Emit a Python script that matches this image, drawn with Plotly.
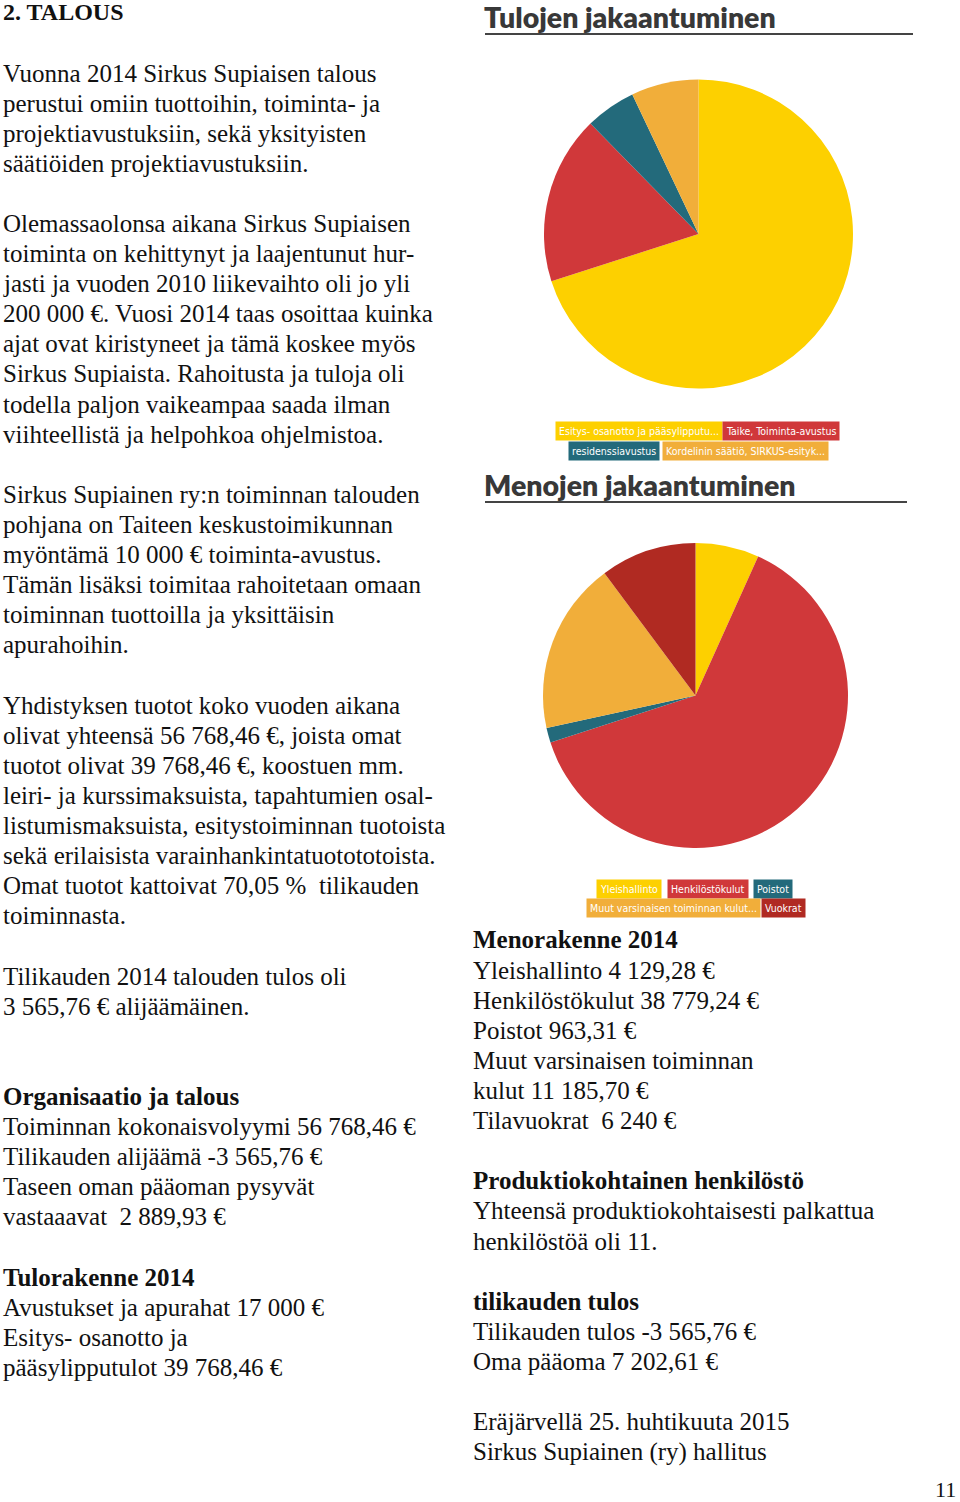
import plotly.graph_objects as go

W, H = 960, 1502

# ---------------- data ----------------
income_labels = ["Esitys- osanotto ja pääsylipputu...", "Taike, Toiminta-avustus",
                 "residenssiavustus", "Kordelinin säätiö, SIRKUS-esityk..."]
income_values = [39768.46, 10000, 3000, 4000]
income_colors = ["#FDD000", "#D0383A", "#236A7B", "#F1AE3A"]

expense_labels = ["Yleishallinto", "Henkilöstökulut", "Poistot",
                  "Muut varsinaisen toiminnan kulut...", "Vuokrat"]
expense_values = [4129.28, 38779.24, 963.31, 11185.70, 6240]
expense_colors = ["#FDD000", "#D0383A", "#236A7B", "#F1AE3A", "#B02A22"]

left_lines = [
    ("Vuonna 2014 Sirkus Supiaisen talous", False),
    ("perustui omiin tuottoihin, toiminta- ja", False),
    ("projektiavustuksiin, sekä yksityisten", False),
    ("säätiöiden projektiavustuksiin.", False),
    ("", False),
    ("Olemassaolonsa aikana Sirkus Supiaisen", False),
    ("toiminta on kehittynyt ja laajentunut hur-", False),
    ("jasti ja vuoden 2010 liikevaihto oli jo yli", False),
    ("200 000 €. Vuosi 2014 taas osoittaa kuinka", False),
    ("ajat ovat kiristyneet ja tämä koskee myös", False),
    ("Sirkus Supiaista. Rahoitusta ja tuloja oli", False),
    ("todella paljon vaikeampaa saada ilman", False),
    ("viihteellistä ja helpohkoa ohjelmistoa.", False),
    ("", False),
    ("Sirkus Supiainen ry:n toiminnan talouden", False),
    ("pohjana on Taiteen keskustoimikunnan", False),
    ("myöntämä 10 000 € toiminta-avustus.", False),
    ("Tämän lisäksi toimitaa rahoitetaan omaan", False),
    ("toiminnan tuottoilla ja yksittäisin", False),
    ("apurahoihin.", False),
    ("", False),
    ("Yhdistyksen tuotot koko vuoden aikana", False),
    ("olivat yhteensä 56 768,46 €, joista omat", False),
    ("tuotot olivat 39 768,46 €, koostuen mm.", False),
    ("leiri- ja kurssimaksuista, tapahtumien osal-", False),
    ("listumismaksuista, esitystoiminnan tuotoista", False),
    ("sekä erilaisista varainhankintatuotototoista.", False),
    ("Omat tuotot kattoivat 70,05 %  tilikauden", False),
    ("toiminnasta.", False),
    ("", False),
    ("Tilikauden 2014 talouden tulos oli", False),
    ("3 565,76 € alijäämäinen.", False),
    ("", False),
    ("", False),
    ("Organisaatio ja talous", True),
    ("Toiminnan kokonaisvolyymi 56 768,46 €", False),
    ("Tilikauden alijäämä -3 565,76 €", False),
    ("Taseen oman pääoman pysyvät", False),
    ("vastaaavat  2 889,93 €", False),
    ("", False),
    ("Tulorakenne 2014", True),
    ("Avustukset ja apurahat 17 000 €", False),
    ("Esitys- osanotto ja", False),
    ("pääsylipputulot 39 768,46 €", False),
]

right_lines = [
    ("Menorakenne 2014", True),
    ("Yleishallinto 4 129,28 €", False),
    ("Henkilöstökulut 38 779,24 €", False),
    ("Poistot 963,31 €", False),
    ("Muut varsinaisen toiminnan", False),
    ("kulut 11 185,70 €", False),
    ("Tilavuokrat  6 240 €", False),
    ("", False),
    ("Produktiokohtainen henkilöstö", True),
    ("Yhteensä produktiokohtaisesti palkattua", False),
    ("henkilöstöä oli 11.", False),
    ("", False),
    ("tilikauden tulos", True),
    ("Tilikauden tulos -3 565,76 €", False),
    ("Oma pääoma 7 202,61 €", False),
    ("", False),
    ("Eräjärvellä 25. huhtikuuta 2015", False),
    ("Sirkus Supiainen (ry) hallitus", False),
]

# ---------------- helpers (page pixels -> paper) ----------------
def px(x):
    return x / W

def py(y):
    return 1 - y / H

SERIF = "Liberation Serif, Times New Roman, serif"
TITLE_FONT = "Lato, Open Sans, sans-serif"
LEG_FONT = "Liberation Sans Narrow, DejaVu Sans Condensed, Roboto, sans-serif"
TXT = "#111111"

fig = go.Figure()

fig.add_trace(go.Pie(
    labels=income_labels, values=income_values, sort=False,
    direction="clockwise", rotation=0,
    marker=dict(colors=income_colors, line=dict(width=0)),
    textinfo="none", showlegend=False,
    domain=dict(x=[px(544), px(853)], y=[py(389), py(79)]),
))
fig.add_trace(go.Pie(
    labels=expense_labels, values=expense_values, sort=False,
    direction="clockwise", rotation=0,
    marker=dict(colors=expense_colors, line=dict(width=0)),
    textinfo="none", showlegend=False,
    domain=dict(x=[px(543), px(848)], y=[py(848), py(543)]),
))

ann = []

def text(x, y, s, size=25, bold=False, family=SERIF, color=TXT, weight=None):
    if bold:
        s = "<b>" + s + "</b>"
    font = dict(family=family, size=size, color=color)
    if weight:
        font["weight"] = weight
    ann.append(dict(x=px(x), y=py(y), xref="paper", yref="paper", text=s,
                    showarrow=False, xanchor="left", yanchor="middle", font=font))

# heading
text(1, 12, "2. TALOUS", size=24, bold=True)

step = 30.1
for i, (s, b) in enumerate(left_lines):
    if s:
        text(1, 73 + i * step, s, bold=b)
for i, (s, b) in enumerate(right_lines):
    if s:
        text(471, 940 + i * step, s, bold=b)

text(933, 1489, "11", size=22)

# chart titles
text(482, 17, "Tulojen jakaantuminen", size=28.5, family=TITLE_FONT, color="#383838", weight=800)
text(482, 485, "Menojen jakaantuminen", size=28.5, family=TITLE_FONT, color="#383838", weight=800)

shapes = [
    dict(type="line", xref="paper", yref="paper", x0=px(485), x1=px(913), y0=py(34), y1=py(34),
         line=dict(color="#444444", width=2)),
    dict(type="line", xref="paper", yref="paper", x0=px(485), x1=px(907), y0=py(502), y1=py(502),
         line=dict(color="#444444", width=2)),
]

# legend chips (drawn from the series labels / colours)
def chip(x, y, label, color):
    ann.append(dict(x=px(x), y=py(y), xref="paper", yref="paper", text=label,
                    showarrow=False, xanchor="left", yanchor="middle",
                    bgcolor=color, borderpad=3,
                    font=dict(family=LEG_FONT, size=10.5, color="white")))

inc_pos = [(555, 431), (722, 431), (568, 451), (662, 451)]
for (x, y), lab, col in zip(inc_pos, income_labels, income_colors):
    chip(x, y, lab, col)

exp_pos = [(596, 889), (667, 889), (753, 889), (586, 908), (761, 908)]
for (x, y), lab, col in zip(exp_pos, expense_labels, expense_colors):
    chip(x, y, lab, col)

fig.update_layout(
    width=W, height=H, margin=dict(l=0, r=0, t=0, b=0),
    paper_bgcolor="white", plot_bgcolor="white",
    annotations=ann, shapes=shapes,
)

fig.write_html("out.html", config={"displayModeBar": False},
               post_script="document.body.style.margin='0';document.body.style.overflow='hidden';")
